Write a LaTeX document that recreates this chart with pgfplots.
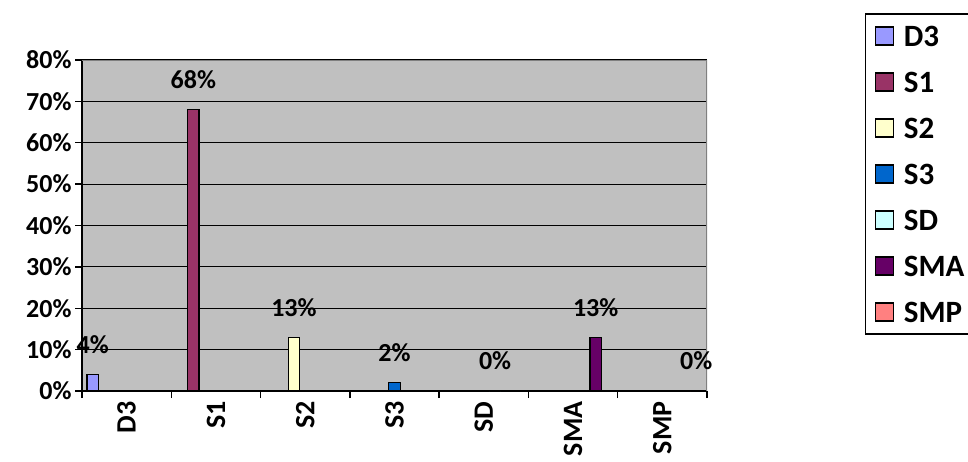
\documentclass[border=0pt]{standalone}
\usepackage{pgfplots}
\pgfplotsset{compat=1.18}
\usepackage{fontspec}
\setmainfont{Carlito}

\definecolor{cD3}{HTML}{9999FF}
\definecolor{cS1}{HTML}{993366}
\definecolor{cS2}{HTML}{FFFFCC}
\definecolor{cS3}{HTML}{0066CC}
\definecolor{cSD}{HTML}{CCFFFF}
\definecolor{cSMA}{HTML}{660066}
\definecolor{cSMP}{HTML}{FF8080}
\definecolor{plotbg}{HTML}{C0C0C0}
\definecolor{framegray}{HTML}{808080}

\newcommand{\axfont}{\bfseries\fontsize{26}{26}\selectfont}
\newcommand{\xlabfont}{\bfseries\fontsize{28}{28}\selectfont}
\newcommand{\legfont}{\bfseries\fontsize{31}{31}\selectfont}

\begin{document}
\begin{tikzpicture}
\begin{axis}[
    at={(82pt,70pt)}, anchor=south west,
    scale only axis,
    width=625pt, height=331pt,
    ybar=0pt, bar width=11.3pt,
    xmin=-0.5, xmax=6.5,
    ymin=0, ymax=80,
    axis lines=left,
    axis line style={black, line width=1.3pt, -},
    axis background/.style={fill=plotbg},
    xtick={0,...,6},
    xticklabels={D3,S1,S2,S3,SD,SMA,SMP},
    minor xtick={-0.5,0.5,...,6.5},
    major x tick style={draw=none},
    ytick={0,10,...,80},
    yticklabel={\pgfmathprintnumber{\tick}\%},
    /pgf/number format/assume math mode=true,
    tick align=outside,
    major tick length=7pt, minor tick length=7pt,
    tick style={black, line width=1.3pt},
    ymajorgrids,
    grid style={black, line width=1.1pt},
    x tick label style={rotate=90, anchor=east, font=\xlabfont},
    y tick label style={font=\axfont},
    nodes near coords={\pgfmathprintnumber{\pgfplotspointmeta}\%},
    every node near coord/.append style={font=\axfont, yshift=17pt},
    legend style={at={(axis description cs:1.2528,1.141)}, anchor=north west,
        draw=black, line width=1.3pt, font=\legfont,
        row sep=24pt, inner xsep=9pt, inner ysep=11pt,
        nodes={inner xsep=10pt, inner ysep=0pt, text height=22pt, text depth=0pt, text width=62pt}},
    legend cell align=left,
    legend image code/.code={\draw[#1, line width=1.2pt] (0pt,-9pt) rectangle (18pt,9pt);},
]
\addplot[fill=cD3, draw=black, line width=1.2pt] coordinates {(0,4)};
\addplot[fill=cS1, draw=black, line width=1.2pt] coordinates {(1,68)};
\addplot[fill=cS2, draw=black, line width=1.2pt] coordinates {(2,13)};
\addplot[fill=cS3, draw=black, line width=1.2pt] coordinates {(3,2)};
\addplot[fill=cSD, draw=black, line width=1.2pt] coordinates {(4,0)};
\addplot[fill=cSMA, draw=black, line width=1.2pt] coordinates {(5,13)};
\addplot[fill=cSMP, draw=black, line width=1.2pt] coordinates {(6,0)};
\legend{D3,S1,S2,S3,SD,SMA,SMP}
\draw[framegray, line width=1.3pt] (rel axis cs:0,1) -- (rel axis cs:1,1) -- (rel axis cs:1,0);
\end{axis}
\pgfresetboundingbox
\useasboundingbox (0,0) rectangle (968pt,461pt);
\end{tikzpicture}
\end{document}
